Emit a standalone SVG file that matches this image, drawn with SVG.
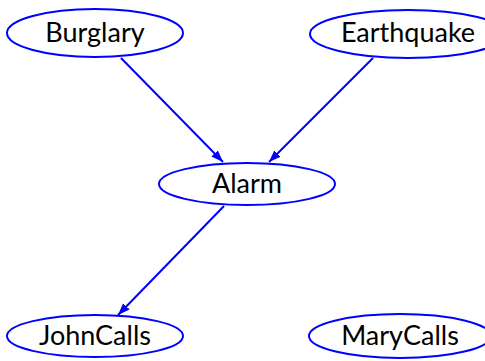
<svg xmlns="http://www.w3.org/2000/svg" width="485" height="361" viewBox="0 0 485 361">
<defs>
<style>
.node ellipse{fill:#ffffff;stroke:#0000ff;stroke-width:2}
.node text{font-family:Lato,"Liberation Sans",sans-serif;font-size:27px;fill:#000000;text-anchor:middle}
.edges line{stroke:#0000ff;stroke-width:2}
</style>
<marker id="arr" viewBox="0 0 12 10" refX="12" refY="5" markerWidth="12" markerHeight="10" markerUnits="userSpaceOnUse" orient="auto">
<path d="M0,0.5 L12,5 L0,9.5 Z" fill="#0000ff"/>
</marker>
</defs>
<rect width="485" height="361" fill="#ffffff"/>
<g class="edges">
<line x1="121" y1="58" x2="223" y2="162" marker-end="url(#arr)"/>
<line x1="373" y1="58" x2="269" y2="162" marker-end="url(#arr)"/>
<line x1="224" y1="206" x2="118" y2="315" marker-end="url(#arr)"/>
</g>
<g id="burglary" class="node"><ellipse cx="95" cy="33" rx="88" ry="24"/><text x="95" y="42">Burglary</text></g>
<g id="earthquake" class="node"><ellipse cx="408" cy="34" rx="98" ry="24"/><text x="408" y="42">Earthquake</text></g>
<g id="alarm" class="node"><ellipse cx="247" cy="184" rx="88" ry="21"/><text x="247" y="193">Alarm</text></g>
<g id="johncalls" class="node"><ellipse cx="95" cy="336" rx="88" ry="21"/><text x="95" y="345">JohnCalls</text></g>
<g id="marycalls" class="node"><ellipse cx="400" cy="336" rx="91" ry="22"/><text x="400" y="345">MaryCalls</text></g>
</svg>
